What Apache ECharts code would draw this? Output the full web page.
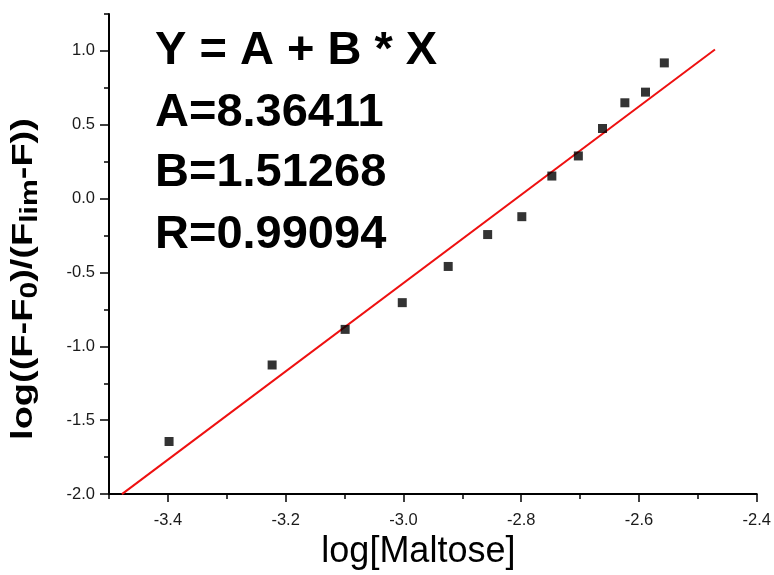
<!DOCTYPE html>
<html>
<head>
<meta charset="utf-8">
<script src="https://cdn.jsdelivr.net/npm/echarts@6/dist/echarts.min.js"></script>
<style>html,body{margin:0;padding:0;background:#fff;}#c{width:774px;height:575px;}</style>
</head>
<body>
<div id="c"></div>
<script>
// Data
const xValues = [-3.398, -3.223, -3.099, -3.002, -2.924, -2.857, -2.799, -2.748, -2.703, -2.662, -2.624, -2.589, -2.557];
const yValues = [-1.644, -1.126, -0.885, -0.704, -0.459, -0.243, -0.122, 0.153, 0.289, 0.475, 0.649, 0.721, 0.919];
const fitX = [-3.478, -2.471];
const fitY = [-2.0, 1.01];
const xTicks = [-3.4, -3.2, -3.0, -2.8, -2.6, -2.4];
const yTicks = [-2.0, -1.5, -1.0, -0.5, 0.0, 0.5, 1.0];
const fitText = ['Y = A + B * X', 'A=8.36411', 'B=1.51268', 'R=0.99094'];
const xTitle = 'log[Maltose]';
const yTitleRich = '{a|log((F-F}{s|0}{a|)/(F}{s|lim}{a|-F))}';

const FONT = "'Liberation Sans', Arial, sans-serif";
const chart = echarts.init(document.getElementById('c'), null, {renderer: 'canvas'});

const points = xValues.map((x, i) => [x, yValues[i]]);
const fitLine = fitX.map((x, i) => [x, fitY[i]]);

const textMids = [51.5, 113, 173.5, 235];

const option = {
  backgroundColor: '#ffffff',
  animation: false,
  grid: {left: 109, right: 15, top: 14, bottom: 80, containLabel: false},
  xAxis: [{
    type: 'value', min: -3.5, max: -2.4, interval: 0.1, position: 'bottom',
    name: xTitle, nameLocation: 'middle', nameGap: 39,
    nameTextStyle: {fontFamily: FONT, fontSize: 36, color: '#000', padding: [0, 29, 0, 0]},
    axisLine: {show: true, onZero: false, lineStyle: {color: '#000', width: 2}},
    axisTick: {show: true, customValues: xTicks, length: 8, lineStyle: {color: '#000', width: 1.5}},
    axisLabel: {show: true, customValues: xTicks, margin: 18, fontFamily: FONT, fontSize: 16.5, color: '#1a1a1a',
      formatter: v => v.toFixed(1)},
    splitLine: {show: false}
  }, {
    type: 'value', min: -3.5, max: -2.4, interval: 0.1, position: 'bottom', gridIndex: 0,
    axisLine: {show: false, onZero: false},
    axisTick: {show: true, length: 5, lineStyle: {color: '#000', width: 1.5}},
    axisLabel: {show: false},
    splitLine: {show: false}
  }],
  yAxis: [{
    type: 'value', min: -2.0, max: 1.25, interval: 0.25, position: 'left',
    axisLine: {show: true, onZero: false, lineStyle: {color: '#000', width: 2}},
    axisTick: {show: true, customValues: yTicks, length: 9, lineStyle: {color: '#000', width: 1.5}},
    axisLabel: {show: true, customValues: yTicks, margin: 14, fontFamily: FONT, fontSize: 16.5, color: '#1a1a1a',
      formatter: v => v.toFixed(1)},
    splitLine: {show: false}
  }, {
    type: 'value', min: -2.0, max: 1.25, interval: 0.25, position: 'left', gridIndex: 0,
    axisLine: {show: false, onZero: false},
    axisTick: {show: true, length: 5, lineStyle: {color: '#000', width: 1.5}},
    axisLabel: {show: false},
    splitLine: {show: false}
  }],
  series: [{
    type: 'scatter', xAxisIndex: 0, yAxisIndex: 0, data: points,
    symbol: 'rect', symbolSize: 9, itemStyle: {color: '#000'}, z: 3
  }, {
    type: 'line', xAxisIndex: 0, yAxisIndex: 0, data: fitLine,
    symbol: 'none', lineStyle: {color: '#ee1111', width: 2}, z: 2
  }],
  graphic: fitText.map((t, i) => ({
    type: 'text', x: 155, y: textMids[i],
    style: {text: t, font: "bold 47px " + FONT, fill: '#000', verticalAlign: 'middle', align: 'left'}
  })).concat([{
    type: 'text', x: 24, y: 279, rotation: Math.PI / 2, scaleX: 1.31,
    style: {
      text: yTitleRich, align: 'center', verticalAlign: 'middle',
      rich: {
        a: {fontFamily: FONT, fontSize: 29, fontWeight: 'bold', fill: '#000', lineHeight: 36},
        s: {fontFamily: FONT, fontSize: 23, fontWeight: 'bold', fill: '#000', lineHeight: 23, verticalAlign: 'bottom'}
      }
    }
  }])
};
chart.setOption(option);
</script>
</body>
</html>
